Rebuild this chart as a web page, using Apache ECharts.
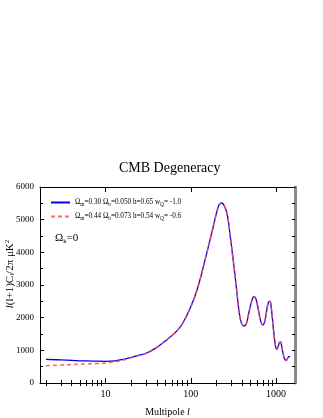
<!DOCTYPE html>
<html><head><meta charset="utf-8">
<script src="https://cdn.jsdelivr.net/npm/echarts@6/dist/echarts.min.js"></script>
<style>html,body{margin:0;padding:0;background:#fff}#c{width:323px;height:418px}</style>
</head><body><div id="c"></div>
<script>
// Multipole values
const multipoles = [2,3,4,5,6,8,10,13,16,20,25,30,40,50,60,70,80,100,120,150,180,200,215,230,250,270,290,310,340,370,395,420,450,480,520,550,580,620,660,700,740,780,820,850,880,920,960,1000,1030,1060,1100,1130,1160,1200,1250,1300,1330,1370,1420,1460];
// Model 1: Ωm=0.30 Ωb=0.050 h=0.65 wQ=-1.0
const model1 = [725,705,690,680,675,668,665,680,720,785,850,910,1090,1285,1450,1620,1820,2335,2900,3860,4700,5200,5450,5510,5400,5100,4500,3900,3000,2150,1820,1745,1830,2150,2520,2640,2580,2250,1900,1775,1900,2250,2480,2500,2300,1800,1350,1060,1035,1120,1240,1260,1150,950,760,690,700,760,810,805];
// Model 2: Ωm=0.44 Ωb=0.073 h=0.54 wQ=-0.6
const model2 = [530,550,565,575,585,595,610,650,700,775,850,910,1090,1285,1450,1620,1820,2335,2900,3860,4700,5200,5450,5510,5400,5100,4500,3900,3000,2150,1820,1745,1830,2150,2520,2640,2580,2250,1900,1775,1900,2250,2480,2500,2300,1800,1350,1060,1035,1120,1240,1260,1150,950,760,690,700,760,810,805];
const xMajorTicks = [10,100,1000];
const xMinorTicks = [2,3,4,5,6,7,8,9,20,30,40,50,60,70,80,90,200,300,400,500,600,700,800,900];
const legendNames = ['{t|Ω}{s|m}{t|=0.30 Ω}{s|b}{t|=0.050 h=0.65 w}{s|Q}{t|= -1.0}',
                     '{t|Ω}{s|m}{t|=0.44 Ω}{s|b}{t|=0.073 h=0.54 w}{s|Q}{t|= -0.6}'];

const FONT = 'Liberation Serif';
const chart = echarts.init(document.getElementById('c'), null, {renderer:'canvas'});
const xBase = {type:'log', logBase:10, min:1.7, max:1670, gridIndex:0, splitLine:{show:false}, axisLabel:{show:false}, axisLine:{show:false}};
chart.setOption({
  animation:false,
  backgroundColor:'#fff',
  title:[
    {text:'CMB Degeneracy', top:161, left:119, padding:0, textStyle:{fontFamily:FONT, fontWeight:'normal', fontSize:14, color:'#000'}},
    {text:'{t|Ω}{s|k}{t|=0}', left:55, top:232, padding:0, textStyle:{fontWeight:'normal', rich:{t:{fontFamily:FONT, fontWeight:'normal', fontSize:11, color:'#000'}, s:{fontFamily:FONT, fontWeight:'normal', fontSize:6.5, color:'#000', padding:[6,0,0,0]}}}}
  ],
  legend:{
    orient:'vertical', left:50, top:199, itemGap:6, itemWidth:19, itemHeight:8, padding:0,
    itemStyle:{opacity:0},
    data:[{name:legendNames[0]},{name:legendNames[1]}],
    textStyle:{fontFamily:FONT, fontSize:7.2, color:'#000', rich:{t:{fontFamily:FONT,fontSize:7.2,color:'#000'}, s:{fontFamily:FONT,fontSize:5.3,color:'#000',padding:[4,0,0,0]}}}
  },
  grid:{left:40, right:28, top:187, bottom:35, containLabel:false, outerBoundsMode:'none'},
  xAxis:[
    Object.assign({}, xBase, {position:'bottom', axisLine:{show:true, onZero:false, lineStyle:{color:'#000', width:1}},
      axisTick:{show:true, inside:true, length:5, customValues:xMajorTicks, lineStyle:{color:'#000'}},
      axisLabel:{show:true, customValues:xMajorTicks, formatter:v=>String(v), fontFamily:FONT, fontSize:10, color:'#000', margin:6},
      name:'Multipole {i|l}', nameLocation:'middle', nameGap:24,
      nameTextStyle:{fontFamily:FONT, fontSize:10, color:'#000', rich:{i:{fontFamily:FONT, fontStyle:'italic', fontSize:10, color:'#000'}}}}),
    Object.assign({}, xBase, {position:'bottom', axisTick:{show:true, inside:true, length:3, customValues:xMinorTicks, lineStyle:{color:'#000'}}}),
    Object.assign({}, xBase, {position:'top', axisLine:{show:true, onZero:false, lineStyle:{color:'#000', width:1}},
      axisTick:{show:true, inside:true, length:5, customValues:xMajorTicks, lineStyle:{color:'#000'}}}),
    Object.assign({}, xBase, {position:'top', axisTick:{show:true, inside:true, length:3, customValues:xMinorTicks, lineStyle:{color:'#000'}}})
  ],
  yAxis:[
    {type:'value', position:'left', min:0, max:6000, interval:1000, splitLine:{show:false},
     axisLine:{show:true, onZero:false, lineStyle:{color:'#000'}},
     axisTick:{show:true, inside:true, length:4, lineStyle:{color:'#000'}},
     minorTick:{show:true, splitNumber:2, length:3, lineStyle:{color:'#000'}},
     axisLabel:{fontFamily:FONT, fontSize:9, color:'#000', margin:6, formatter:v=>String(v)},
     name:'{i|l}(l+1)C{s|l}/2π μK{p|2}', nameLocation:'middle', nameGap:24, nameRotate:90, nameMoveOverlap:false,
     nameTextStyle:{fontFamily:FONT, fontSize:11, color:'#000', padding:[0,0,0,22], rich:{
       i:{fontFamily:FONT, fontStyle:'italic', fontSize:11, color:'#000'},
       s:{fontFamily:FONT, fontSize:7, color:'#000', padding:[5,0,0,0]},
       p:{fontFamily:FONT, fontSize:7, color:'#000', padding:[0,0,5,0]}}}},
    {type:'value', position:'right', min:0, max:6000, interval:500, splitLine:{show:false},
     axisLine:{show:true, onZero:false, lineStyle:{color:'#888', width:3}},
     axisTick:{show:true, inside:true, length:3, lineStyle:{color:'#000'}},
     axisLabel:{show:false}}
  ],
  series:[
    {name:legendNames[0], type:'line', xAxisIndex:0, yAxisIndex:0, symbol:'none', smooth:0.4,
     data:multipoles.map((l,i)=>[l, model1[i]]), lineStyle:{color:'#0000ee', width:1.3}, itemStyle:{color:'#0000ee'}},
    {name:legendNames[1], type:'line', xAxisIndex:0, yAxisIndex:0, symbol:'none', smooth:0.4,
     data:multipoles.map((l,i)=>[l, model2[i]]), lineStyle:{color:'#ff5050', width:1.6, type:[4,3], opacity:0.85}, itemStyle:{color:'#ff5050'}}
  ]
});
</script></body></html>
